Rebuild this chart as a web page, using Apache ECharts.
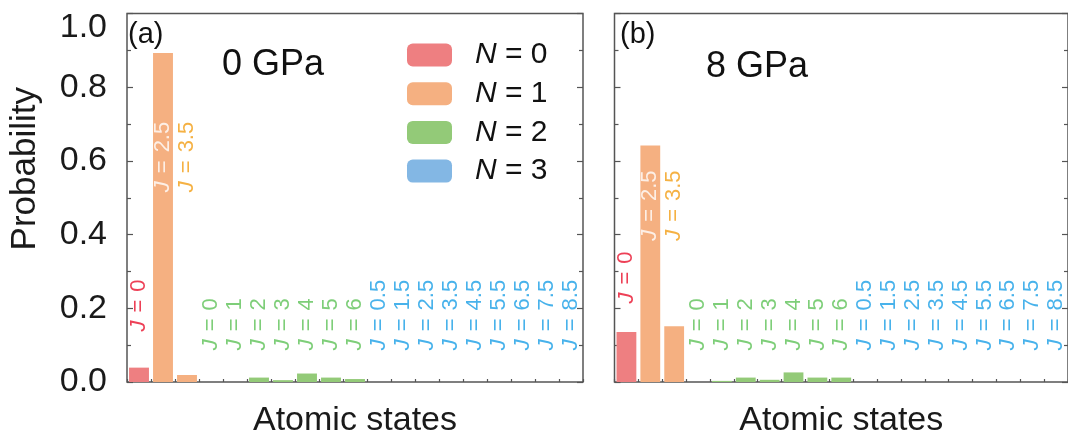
<!DOCTYPE html>
<html>
<head>
<meta charset="utf-8">
<script src="https://cdn.jsdelivr.net/npm/echarts@6/dist/echarts.min.js"></script>
<style>
  html, body { margin: 0; padding: 0; background: #fff; }
  #chart { width: 1068px; height: 443px; }
</style>
</head>
<body>
<div id="chart"></div>
<script>
// Angular momentum J of each atomic state, grouped by occupation N
const jN0 = ['0'];
const jN1 = ['2.5', '3.5'];
const jN2 = ['0', '1', '2', '3', '4', '5', '6'];
const jN3 = ['0.5', '1.5', '2.5', '3.5', '4.5', '5.5', '6.5', '7.5', '8.5'];

// Probabilities at 0 GPa
const probA_N0 = [0.039];
const probA_N1 = [0.893, 0.019];
const probA_N2 = [0, 0, 0.012, 0.005, 0.023, 0.012, 0.008];
const probA_N3 = [0, 0, 0, 0, 0, 0, 0, 0, 0];

// Probabilities at 8 GPa
const probB_N0 = [0.136];
const probB_N1 = [0.642, 0.151];
const probB_N2 = [0, 0.003, 0.012, 0.006, 0.026, 0.012, 0.012];
const probB_N3 = [0, 0, 0, 0, 0, 0, 0, 0, 0];

const yTicks = [0, 0.2, 0.4, 0.6, 0.8, 1.0];
const legendNames = ['N = 0', 'N = 1', 'N = 2', 'N = 3'];

const groups = [jN0, jN1, jN2, jN3];
const categories = [];
groups.forEach((js, n) => js.forEach(j => categories.push('N=' + n + ', J=' + j)));

const barColors = ['#ee7f81', '#f5b081', '#93ca78', '#83b7e4'];
const textColors = ['#e8102c', '#f39e14', '#5ec257', '#1a9fe6'];
const FONT = '"Liberation Sans", Arial, sans-serif';

// Offsets of each N group along the category axis
const offsets = [];
{ let o = 0; groups.forEach(js => { offsets.push(o); o += js.length; }); }

function padded(values, n) {
  const arr = new Array(categories.length).fill('-');
  values.forEach((v, i) => { arr[offsets[n] + i] = v; });
  return arr;
}

function panelSeries(idx, probs, labelHeights) {
  const out = [];
  probs.forEach((vals, n) => {
    out.push({
      name: legendNames[n],
      type: 'bar',
      xAxisIndex: idx, yAxisIndex: idx * 2,
      stack: 'p' + idx,
      barCategoryGap: '17%',
      itemStyle: { color: barColors[n] },
      silent: true,
      data: padded(vals, n)
    });
  });
  // rotated J labels
  groups.forEach((js, n) => {
    out.push({
      name: 'jlabels-' + idx + '-' + n,
      type: 'scatter',
      xAxisIndex: idx, yAxisIndex: idx * 2,
      symbolSize: 1,
      itemStyle: { color: 'rgba(0,0,0,0)' },
      silent: true,
      z: 5,
      label: {
        show: true,
        position: 'inside',
        rotate: 90,
        align: 'left',
        verticalAlign: 'middle',
        fontFamily: FONT,
        fontSize: 22,
        color: textColors[n],
        formatter: p => '{i|J}{s| }={s| }' + p.name,
        rich: {
          i: { fontStyle: 'italic', fontFamily: FONT, fontSize: 22 },
          s: { width: 8, fontSize: 22 }
        }
      },
      data: js.map((j, i) => {
        const item = { name: j, value: [offsets[n] + i, labelHeights[n]] };
        if (n === 1 && i === 0) item.label = { color: '#ffffff' };
        return item;
      })
    });
  });
  return out;
}

const gridTop = 13.5, gridH = 370, gridW = 456;

function yAxisDef(gridIndex, position, showLabels, name) {
  return {
    type: 'value', gridIndex, position,
    min: 0, max: 1, interval: 0.2,
    axisLine: { show: false },
    splitLine: { show: false },
    axisTick: { show: true, inside: true, length: 6, lineStyle: { color: '#555', width: 1.2 } },
    minorTick: { show: true, splitNumber: 2, length: 4, lineStyle: { color: '#555', width: 1.2 } },
    axisLabel: {
      show: showLabels, fontSize: 34, fontFamily: FONT, color: '#1a1a1a', margin: 20,
      formatter: v => {
        if (!yTicks.some(t => Math.abs(t - v) < 1e-9)) return '';
        return v >= 1 ? '{top|' + v.toFixed(1) + '}' : v.toFixed(1);
      },
      rich: { top: { fontSize: 34, fontFamily: FONT, color: '#1a1a1a', padding: [28, 0, 0, 0] } }
    },
    name: name || '',
    nameLocation: 'middle',
    nameGap: 84,
    nameRotate: 90,
    nameTextStyle: { fontSize: 35, fontFamily: FONT, color: '#1a1a1a', padding: [0, 0, 0, 58] }
  };
}

function xAxisDef(gridIndex) {
  return {
    type: 'category', gridIndex, data: categories,
    axisLine: { show: false },
    axisTick: { show: true, inside: true, length: 3, interval: 0, lineStyle: { color: '#555', width: 1.2 } },
    axisLabel: { show: false },
    name: 'Atomic states',
    nameLocation: 'middle',
    nameGap: 22,
    nameTextStyle: { fontSize: 34, fontFamily: FONT, color: '#1a1a1a' }
  };
}

const titleStyle = size => ({ fontSize: size, fontWeight: 'normal', fontFamily: FONT, color: '#111' });

const chart = echarts.init(document.getElementById('chart'), null, { renderer: 'canvas' });

chart.setOption({
  animation: false,
  backgroundColor: '#ffffff',
  textStyle: { fontFamily: FONT },
  grid: [
    { left: 127, top: gridTop, width: gridW, height: gridH, show: true, borderColor: '#555', borderWidth: 1.5, backgroundColor: 'transparent' },
    { left: 614.5, top: gridTop, width: gridW, height: gridH, show: true, borderColor: '#555', borderWidth: 1.5, backgroundColor: 'transparent' }
  ],
  xAxis: [xAxisDef(0), xAxisDef(1)],
  yAxis: [
    yAxisDef(0, 'left', true, 'Probability'),
    yAxisDef(0, 'right', false),
    yAxisDef(1, 'left', false),
    yAxisDef(1, 'right', false)
  ],
  title: [
    { text: '(a)', left: 128, top: 20, padding: 0, textStyle: titleStyle(29) },
    { text: '0 GPa', left: 222, top: 47, padding: 0, textStyle: titleStyle(36) },
    { text: '(b)', left: 620, top: 20, padding: 0, textStyle: titleStyle(29) },
    { text: '8 GPa', left: 706, top: 49, padding: 0, textStyle: titleStyle(36) }
  ],
  legend: {
    data: legendNames,
    orient: 'vertical',
    left: 407, top: 40,
    padding: 0,
    itemWidth: 45, itemHeight: 23, itemGap: 8.7,
    icon: 'roundRect',
    selectedMode: false,
    formatter: n => '{i|N}' + n.slice(1),
    textStyle: {
      fontSize: 30, fontFamily: FONT, color: '#111', lineHeight: 23,
      padding: [0, 0, 0, 18],
      rich: { i: { fontStyle: 'italic', fontSize: 30, fontFamily: FONT, lineHeight: 23 } }
    }
  },
  series: [
    ...panelSeries(0, [probA_N0, probA_N1, probA_N2, probA_N3], [0.137, 0.515, 0.086, 0.086]),
    ...panelSeries(1, [probB_N0, probB_N1, probB_N2, probB_N3], [0.213, 0.383, 0.086, 0.086])
  ]
});
</script>
</body>
</html>
